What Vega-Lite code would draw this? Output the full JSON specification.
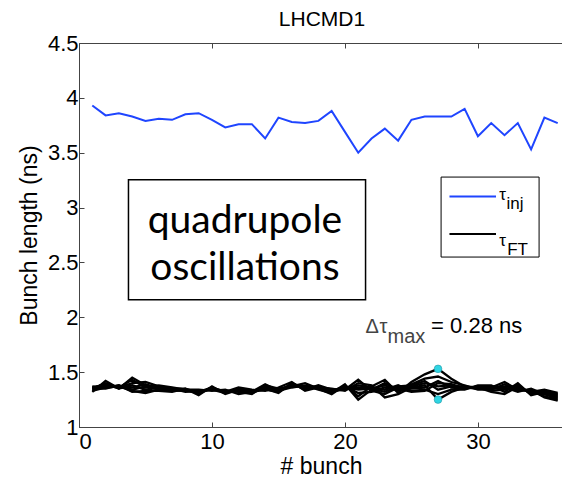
{
"$schema": "https://vega.github.io/schema/vega-lite/v6.json",
"width": 492, "height": 384,
"autosize": {"type": "none"},
"padding": {"left": 79, "top": 43, "right": 0, "bottom": 51},
"background": "white",
"title": {"text": "LHCMD1", "font": "Liberation Sans", "fontSize": 21, "fontWeight": "normal", "color": "black", "offset": 2, "dx": -3},
"config": {
  "view": {"stroke": "#444", "strokeWidth": 1},
  "axis": {"labelFont": "Liberation Sans", "labelFontSize": 22, "labelColor": "black", "titleFont": "Liberation Sans", "titleFontSize": 23, "titleFontWeight": "normal", "titleColor": "black", "domainColor": "#444", "tickColor": "#444", "tickSize": -5, "grid": false}
},
"datasets": {
  "inj": [
    {"bunch":1,"length":3.93},{"bunch":2,"length":3.84},{"bunch":3,"length":3.86},{"bunch":4,"length":3.83},{"bunch":5,"length":3.79},{"bunch":6,"length":3.81},{"bunch":7,"length":3.80},{"bunch":8,"length":3.85},{"bunch":9,"length":3.86},{"bunch":10,"length":3.80},{"bunch":11,"length":3.73},{"bunch":12,"length":3.76},{"bunch":13,"length":3.76},{"bunch":14,"length":3.63},{"bunch":15,"length":3.82},{"bunch":16,"length":3.78},{"bunch":17,"length":3.77},{"bunch":18,"length":3.79},{"bunch":19,"length":3.88},{"bunch":20,"length":3.69},{"bunch":21,"length":3.50},{"bunch":22,"length":3.63},{"bunch":23,"length":3.72},{"bunch":24,"length":3.61},{"bunch":25,"length":3.80},{"bunch":26,"length":3.83},{"bunch":27,"length":3.83},{"bunch":28,"length":3.83},{"bunch":29,"length":3.90},{"bunch":30,"length":3.65},{"bunch":31,"length":3.77},{"bunch":32,"length":3.66},{"bunch":33,"length":3.77},{"bunch":34,"length":3.53},{"bunch":35,"length":3.82},{"bunch":36,"length":3.77}
  ],
  "ft": [
    {"bunch":1,"trace":1,"length":1.32},{"bunch":1,"trace":2,"length":1.33},{"bunch":1,"trace":3,"length":1.34},{"bunch":1,"trace":4,"length":1.35},{"bunch":1,"trace":5,"length":1.35},{"bunch":1,"trace":6,"length":1.36},{"bunch":1,"trace":7,"length":1.36},{"bunch":1,"trace":8,"length":1.37},
    {"bunch":2,"trace":1,"length":1.42},{"bunch":2,"trace":2,"length":1.36},{"bunch":2,"trace":3,"length":1.38},{"bunch":2,"trace":4,"length":1.35},{"bunch":2,"trace":5,"length":1.40},{"bunch":2,"trace":6,"length":1.37},{"bunch":2,"trace":7,"length":1.39},{"bunch":2,"trace":8,"length":1.36},
    {"bunch":3,"trace":1,"length":1.35},{"bunch":3,"trace":2,"length":1.37},{"bunch":3,"trace":3,"length":1.36},{"bunch":3,"trace":4,"length":1.38},{"bunch":3,"trace":5,"length":1.36},{"bunch":3,"trace":6,"length":1.37},{"bunch":3,"trace":7,"length":1.35},{"bunch":3,"trace":8,"length":1.38},
    {"bunch":4,"trace":1,"length":1.45},{"bunch":4,"trace":2,"length":1.33},{"bunch":4,"trace":3,"length":1.40},{"bunch":4,"trace":4,"length":1.32},{"bunch":4,"trace":5,"length":1.43},{"bunch":4,"trace":6,"length":1.36},{"bunch":4,"trace":7,"length":1.38},{"bunch":4,"trace":8,"length":1.34},
    {"bunch":5,"trace":1,"length":1.38},{"bunch":5,"trace":2,"length":1.31},{"bunch":5,"trace":3,"length":1.41},{"bunch":5,"trace":4,"length":1.33},{"bunch":5,"trace":5,"length":1.36},{"bunch":5,"trace":6,"length":1.39},{"bunch":5,"trace":7,"length":1.34},{"bunch":5,"trace":8,"length":1.37},
    {"bunch":6,"trace":1,"length":1.36},{"bunch":6,"trace":2,"length":1.34},{"bunch":6,"trace":3,"length":1.37},{"bunch":6,"trace":4,"length":1.33},{"bunch":6,"trace":5,"length":1.38},{"bunch":6,"trace":6,"length":1.35},{"bunch":6,"trace":7,"length":1.36},{"bunch":6,"trace":8,"length":1.34},
    {"bunch":7,"trace":1,"length":1.34},{"bunch":7,"trace":2,"length":1.33},{"bunch":7,"trace":3,"length":1.35},{"bunch":7,"trace":4,"length":1.32},{"bunch":7,"trace":5,"length":1.36},{"bunch":7,"trace":6,"length":1.34},{"bunch":7,"trace":7,"length":1.35},{"bunch":7,"trace":8,"length":1.33},
    {"bunch":8,"trace":1,"length":1.33},{"bunch":8,"trace":2,"length":1.34},{"bunch":8,"trace":3,"length":1.32},{"bunch":8,"trace":4,"length":1.35},{"bunch":8,"trace":5,"length":1.34},{"bunch":8,"trace":6,"length":1.33},{"bunch":8,"trace":7,"length":1.35},{"bunch":8,"trace":8,"length":1.34},
    {"bunch":9,"trace":1,"length":1.32},{"bunch":9,"trace":2,"length":1.31},{"bunch":9,"trace":3,"length":1.33},{"bunch":9,"trace":4,"length":1.29},{"bunch":9,"trace":5,"length":1.34},{"bunch":9,"trace":6,"length":1.32},{"bunch":9,"trace":7,"length":1.31},{"bunch":9,"trace":8,"length":1.33},
    {"bunch":10,"trace":1,"length":1.35},{"bunch":10,"trace":2,"length":1.36},{"bunch":10,"trace":3,"length":1.34},{"bunch":10,"trace":4,"length":1.37},{"bunch":10,"trace":5,"length":1.33},{"bunch":10,"trace":6,"length":1.36},{"bunch":10,"trace":7,"length":1.35},{"bunch":10,"trace":8,"length":1.34},
    {"bunch":11,"trace":1,"length":1.32},{"bunch":11,"trace":2,"length":1.31},{"bunch":11,"trace":3,"length":1.33},{"bunch":11,"trace":4,"length":1.30},{"bunch":11,"trace":5,"length":1.34},{"bunch":11,"trace":6,"length":1.32},{"bunch":11,"trace":7,"length":1.33},{"bunch":11,"trace":8,"length":1.31},
    {"bunch":12,"trace":1,"length":1.33},{"bunch":12,"trace":2,"length":1.35},{"bunch":12,"trace":3,"length":1.32},{"bunch":12,"trace":4,"length":1.34},{"bunch":12,"trace":5,"length":1.30},{"bunch":12,"trace":6,"length":1.36},{"bunch":12,"trace":7,"length":1.33},{"bunch":12,"trace":8,"length":1.34},
    {"bunch":13,"trace":1,"length":1.31},{"bunch":13,"trace":2,"length":1.32},{"bunch":13,"trace":3,"length":1.30},{"bunch":13,"trace":4,"length":1.33},{"bunch":13,"trace":5,"length":1.32},{"bunch":13,"trace":6,"length":1.34},{"bunch":13,"trace":7,"length":1.31},{"bunch":13,"trace":8,"length":1.32},
    {"bunch":14,"trace":1,"length":1.36},{"bunch":14,"trace":2,"length":1.34},{"bunch":14,"trace":3,"length":1.38},{"bunch":14,"trace":4,"length":1.35},{"bunch":14,"trace":5,"length":1.39},{"bunch":14,"trace":6,"length":1.33},{"bunch":14,"trace":7,"length":1.37},{"bunch":14,"trace":8,"length":1.36},
    {"bunch":15,"trace":1,"length":1.34},{"bunch":15,"trace":2,"length":1.32},{"bunch":15,"trace":3,"length":1.35},{"bunch":15,"trace":4,"length":1.31},{"bunch":15,"trace":5,"length":1.33},{"bunch":15,"trace":6,"length":1.36},{"bunch":15,"trace":7,"length":1.34},{"bunch":15,"trace":8,"length":1.33},
    {"bunch":16,"trace":1,"length":1.38},{"bunch":16,"trace":2,"length":1.39},{"bunch":16,"trace":3,"length":1.37},{"bunch":16,"trace":4,"length":1.40},{"bunch":16,"trace":5,"length":1.36},{"bunch":16,"trace":6,"length":1.41},{"bunch":16,"trace":7,"length":1.38},{"bunch":16,"trace":8,"length":1.39},
    {"bunch":17,"trace":1,"length":1.37},{"bunch":17,"trace":2,"length":1.35},{"bunch":17,"trace":3,"length":1.40},{"bunch":17,"trace":4,"length":1.34},{"bunch":17,"trace":5,"length":1.38},{"bunch":17,"trace":6,"length":1.33},{"bunch":17,"trace":7,"length":1.36},{"bunch":17,"trace":8,"length":1.37},
    {"bunch":18,"trace":1,"length":1.36},{"bunch":18,"trace":2,"length":1.37},{"bunch":18,"trace":3,"length":1.35},{"bunch":18,"trace":4,"length":1.38},{"bunch":18,"trace":5,"length":1.34},{"bunch":18,"trace":6,"length":1.36},{"bunch":18,"trace":7,"length":1.37},{"bunch":18,"trace":8,"length":1.35},
    {"bunch":19,"trace":1,"length":1.32},{"bunch":19,"trace":2,"length":1.33},{"bunch":19,"trace":3,"length":1.30},{"bunch":19,"trace":4,"length":1.34},{"bunch":19,"trace":5,"length":1.31},{"bunch":19,"trace":6,"length":1.35},{"bunch":19,"trace":7,"length":1.33},{"bunch":19,"trace":8,"length":1.32},
    {"bunch":20,"trace":1,"length":1.36},{"bunch":20,"trace":2,"length":1.34},{"bunch":20,"trace":3,"length":1.38},{"bunch":20,"trace":4,"length":1.35},{"bunch":20,"trace":5,"length":1.39},{"bunch":20,"trace":6,"length":1.33},{"bunch":20,"trace":7,"length":1.37},{"bunch":20,"trace":8,"length":1.35},
    {"bunch":21,"trace":1,"length":1.34},{"bunch":21,"trace":2,"length":1.43},{"bunch":21,"trace":3,"length":1.28},{"bunch":21,"trace":4,"length":1.38},{"bunch":21,"trace":5,"length":1.25},{"bunch":21,"trace":6,"length":1.40},{"bunch":21,"trace":7,"length":1.31},{"bunch":21,"trace":8,"length":1.36},
    {"bunch":22,"trace":1,"length":1.35},{"bunch":22,"trace":2,"length":1.33},{"bunch":22,"trace":3,"length":1.37},{"bunch":22,"trace":4,"length":1.36},{"bunch":22,"trace":5,"length":1.34},{"bunch":22,"trace":6,"length":1.38},{"bunch":22,"trace":7,"length":1.32},{"bunch":22,"trace":8,"length":1.35},
    {"bunch":23,"trace":1,"length":1.38},{"bunch":23,"trace":2,"length":1.30},{"bunch":23,"trace":3,"length":1.43},{"bunch":23,"trace":4,"length":1.34},{"bunch":23,"trace":5,"length":1.40},{"bunch":23,"trace":6,"length":1.27},{"bunch":23,"trace":7,"length":1.36},{"bunch":23,"trace":8,"length":1.32},
    {"bunch":24,"trace":1,"length":1.33},{"bunch":24,"trace":2,"length":1.36},{"bunch":24,"trace":3,"length":1.31},{"bunch":24,"trace":4,"length":1.38},{"bunch":24,"trace":5,"length":1.34},{"bunch":24,"trace":6,"length":1.30},{"bunch":24,"trace":7,"length":1.35},{"bunch":24,"trace":8,"length":1.37},
    {"bunch":25,"trace":1,"length":1.37},{"bunch":25,"trace":2,"length":1.35},{"bunch":25,"trace":3,"length":1.41},{"bunch":25,"trace":4,"length":1.33},{"bunch":25,"trace":5,"length":1.39},{"bunch":25,"trace":6,"length":1.36},{"bunch":25,"trace":7,"length":1.32},{"bunch":25,"trace":8,"length":1.38},
    {"bunch":26,"trace":1,"length":1.40},{"bunch":26,"trace":2,"length":1.36},{"bunch":26,"trace":3,"length":1.48},{"bunch":26,"trace":4,"length":1.34},{"bunch":26,"trace":5,"length":1.44},{"bunch":26,"trace":6,"length":1.38},{"bunch":26,"trace":7,"length":1.33},{"bunch":26,"trace":8,"length":1.42},
    {"bunch":27,"trace":1,"length":1.37},{"bunch":27,"trace":2,"length":1.42},{"bunch":27,"trace":3,"length":1.53},{"bunch":27,"trace":4,"length":1.30},{"bunch":27,"trace":5,"length":1.46},{"bunch":27,"trace":6,"length":1.25},{"bunch":27,"trace":7,"length":1.40},{"bunch":27,"trace":8,"length":1.34},
    {"bunch":28,"trace":1,"length":1.38},{"bunch":28,"trace":2,"length":1.36},{"bunch":28,"trace":3,"length":1.44},{"bunch":28,"trace":4,"length":1.34},{"bunch":28,"trace":5,"length":1.41},{"bunch":28,"trace":6,"length":1.32},{"bunch":28,"trace":7,"length":1.39},{"bunch":28,"trace":8,"length":1.37},
    {"bunch":29,"trace":1,"length":1.36},{"bunch":29,"trace":2,"length":1.35},{"bunch":29,"trace":3,"length":1.37},{"bunch":29,"trace":4,"length":1.34},{"bunch":29,"trace":5,"length":1.38},{"bunch":29,"trace":6,"length":1.36},{"bunch":29,"trace":7,"length":1.35},{"bunch":29,"trace":8,"length":1.37},
    {"bunch":30,"trace":1,"length":1.35},{"bunch":30,"trace":2,"length":1.37},{"bunch":30,"trace":3,"length":1.36},{"bunch":30,"trace":4,"length":1.38},{"bunch":30,"trace":5,"length":1.34},{"bunch":30,"trace":6,"length":1.36},{"bunch":30,"trace":7,"length":1.37},{"bunch":30,"trace":8,"length":1.35},
    {"bunch":31,"trace":1,"length":1.35},{"bunch":31,"trace":2,"length":1.33},{"bunch":31,"trace":3,"length":1.36},{"bunch":31,"trace":4,"length":1.38},{"bunch":31,"trace":5,"length":1.34},{"bunch":31,"trace":6,"length":1.32},{"bunch":31,"trace":7,"length":1.37},{"bunch":31,"trace":8,"length":1.35},
    {"bunch":32,"trace":1,"length":1.37},{"bunch":32,"trace":2,"length":1.34},{"bunch":32,"trace":3,"length":1.41},{"bunch":32,"trace":4,"length":1.32},{"bunch":32,"trace":5,"length":1.39},{"bunch":32,"trace":6,"length":1.30},{"bunch":32,"trace":7,"length":1.36},{"bunch":32,"trace":8,"length":1.35},
    {"bunch":33,"trace":1,"length":1.36},{"bunch":33,"trace":2,"length":1.38},{"bunch":33,"trace":3,"length":1.34},{"bunch":33,"trace":4,"length":1.40},{"bunch":33,"trace":5,"length":1.33},{"bunch":33,"trace":6,"length":1.37},{"bunch":33,"trace":7,"length":1.32},{"bunch":33,"trace":8,"length":1.35},
    {"bunch":34,"trace":1,"length":1.32},{"bunch":34,"trace":2,"length":1.30},{"bunch":34,"trace":3,"length":1.33},{"bunch":34,"trace":4,"length":1.29},{"bunch":34,"trace":5,"length":1.34},{"bunch":34,"trace":6,"length":1.31},{"bunch":34,"trace":7,"length":1.35},{"bunch":34,"trace":8,"length":1.32},
    {"bunch":35,"trace":1,"length":1.30},{"bunch":35,"trace":2,"length":1.31},{"bunch":35,"trace":3,"length":1.28},{"bunch":35,"trace":4,"length":1.32},{"bunch":35,"trace":5,"length":1.27},{"bunch":35,"trace":6,"length":1.33},{"bunch":35,"trace":7,"length":1.30},{"bunch":35,"trace":8,"length":1.34},
    {"bunch":36,"trace":1,"length":1.27},{"bunch":36,"trace":2,"length":1.28},{"bunch":36,"trace":3,"length":1.25},{"bunch":36,"trace":4,"length":1.29},{"bunch":36,"trace":5,"length":1.24},{"bunch":36,"trace":6,"length":1.30},{"bunch":36,"trace":7,"length":1.26},{"bunch":36,"trace":8,"length":1.31}
  ]
},
"encoding": {
  "x": {"field": "bunch", "type": "quantitative", "scale": {"domain": [0, 37], "nice": false, "zero": false}, "axis": {"values": [0, 10, 20, 30], "title": "# bunch", "labelPadding": 9, "titleBaseline": "alphabetic", "titleY": 46, "titleX": 242}},
  "y": {"field": "length", "type": "quantitative", "scale": {"domain": [1, 4.5], "nice": false, "zero": false}, "axis": {"values": [1, 1.5, 2, 2.5, 3, 3.5, 4, 4.5], "format": "~g", "title": "Bunch length (ns)", "labelPadding": 6, "titlePadding": 6}}
},
"layer": [
  {"layer": [
    {"data": {"name": "ft"}, "mark": {"type": "line", "color": "black", "strokeWidth": 2.3}, "encoding": {"detail": {"field": "trace", "type": "nominal"}}},
    {"data": {"name": "inj"}, "mark": {"type": "line", "color": "#1f45ff", "strokeWidth": 2}},
    {"data": {"values": [{"bunch": 27, "length": 1.53}, {"bunch": 27, "length": 1.25}]}, "mark": {"type": "point", "filled": true, "color": "#2fd5e3", "size": 60, "opacity": 1, "stroke": "#1a8a99", "strokeWidth": 0.5}},
    {"data": {"values": [{"bunch": 3.72, "bunch2": 21.55, "length": 3.254, "length2": 2.16}]}, "mark": {"type": "rect", "fill": "white", "stroke": "black", "strokeWidth": 1.5}, "encoding": {"x2": {"field": "bunch2"}, "y2": {"field": "length2"}}},
    {"data": {"values": [{"bunch": 12.48, "length": 2.771, "label": "quadrupole"}, {"bunch": 12.48, "length": 2.342, "label": "oscillations"}]}, "mark": {"type": "text", "font": "Lato", "fontSize": 39, "align": "center", "baseline": "alphabetic", "color": "black"}, "encoding": {"text": {"field": "label"}}},
    {"data": {"values": [{"bunch": 27.23, "bunch2": 34.6, "length": 3.278, "length2": 2.549}]}, "mark": {"type": "rect", "fill": "white", "stroke": "black", "strokeWidth": 1}, "encoding": {"x2": {"field": "bunch2"}, "y2": {"field": "length2"}}},
    {"data": {"values": [{"bunch": 27.86, "bunch2": 31.36, "length": 3.10, "series": "inj"}, {"bunch": 27.86, "bunch2": 31.36, "length": 2.76, "series": "FT"}]}, "mark": {"type": "rule", "strokeWidth": 2}, "encoding": {"x2": {"field": "bunch2"}, "color": {"field": "series", "type": "nominal", "scale": {"domain": ["inj", "FT"], "range": ["#1f45ff", "black"]}, "legend": null}}},
    {"data": {"values": [{"bunch": 31.6, "length": 3.072, "label": "τ"}, {"bunch": 32.15, "length": 2.99, "label": "inj"}, {"bunch": 31.6, "length": 2.652, "label": "τ"}, {"bunch": 32.2, "length": 2.57, "label": "FT"}]}, "mark": {"type": "text", "font": "Liberation Sans", "fontSize": 17, "align": "left", "baseline": "alphabetic", "color": "black"}, "encoding": {"text": {"field": "label"}}},
    {"data": {"values": [{"bunch": 21.55, "length": 1.859, "label": "Δ"}, {"bunch": 22.6, "length": 1.859, "label": "τ"}, {"bunch": 23.2, "length": 1.768, "label": "max"}]}, "mark": {"type": "text", "font": "Liberation Sans", "fontSize": 20, "align": "left", "baseline": "alphabetic", "color": "#444"}, "encoding": {"text": {"field": "label"}}},
    {"data": {"values": [{"bunch": 26.48, "length": 1.859, "label": "= 0.28 ns"}]}, "mark": {"type": "text", "font": "Liberation Sans", "fontSize": 22, "align": "left", "baseline": "alphabetic", "color": "black"}, "encoding": {"text": {"field": "label"}}}
  ]},
  {"data": {"name": "inj"}, "mark": {"type": "point", "opacity": 0},
   "encoding": {"x": {"field": "bunch", "type": "quantitative", "scale": {"domain": [0, 37], "nice": false, "zero": false}, "axis": {"orient": "top", "values": [10, 20, 30], "labels": false, "title": null, "domain": false, "tickSize": -5}}}}
],
"resolve": {"axis": {"x": "independent"}}
}
